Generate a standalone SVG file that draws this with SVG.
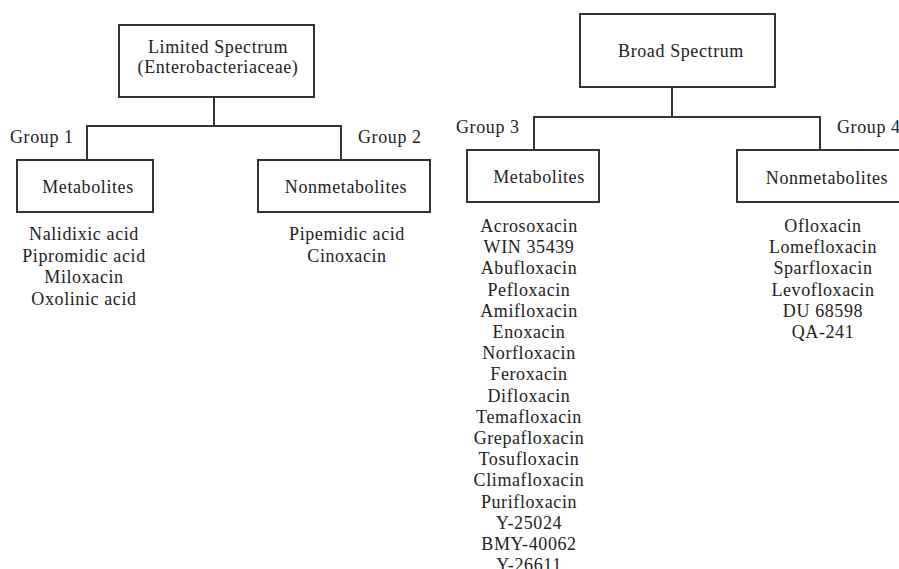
<svg xmlns="http://www.w3.org/2000/svg" width="899" height="569" viewBox="0 0 899 569">
<style>
.box{fill:#fff;stroke:#333;stroke-width:2}
.ln{fill:none;stroke:#333;stroke-width:2}
text{font-family:"Liberation Serif","Times New Roman",serif;font-size:18px;fill:#222;letter-spacing:0.6px}
.c{text-anchor:middle}
</style>
<rect width="899" height="569" fill="#fff"/>
<g id="connectors">
<path class="ln" d="M214 97V126M87 160V126H341V160"/>
<path class="ln" d="M672 87V117M534 150V117H820V150"/>
</g>
<g id="limited">
<rect class="box" x="119" y="25" width="195" height="72"/>
<text class="c" x="218" y="53">Limited Spectrum</text>
<text class="c" x="218" y="73">(Enterobacteriaceae)</text>
</g>
<g id="broad">
<rect class="box" x="580" y="14" width="195" height="73"/>
<text class="c" x="681" y="57">Broad Spectrum</text>
</g>
<g id="group1">
<text x="10" y="143">Group 1</text>
<rect class="box" x="17" y="160" width="136" height="52"/>
<text class="c" x="88" y="193">Metabolites</text>
<text class="c" x="84" y="240">Nalidixic acid</text>
<text class="c" x="84" y="261.5">Pipromidic acid</text>
<text class="c" x="84" y="283">Miloxacin</text>
<text class="c" x="84" y="304.5">Oxolinic acid</text>
</g>
<g id="group2">
<text x="358" y="143">Group 2</text>
<rect class="box" x="258" y="160" width="172" height="52"/>
<text class="c" x="346" y="193">Nonmetabolites</text>
<text class="c" x="347" y="240">Pipemidic acid</text>
<text class="c" x="347" y="261.5">Cinoxacin</text>
</g>
<g id="group3">
<text x="456" y="133">Group 3</text>
<rect class="box" x="467" y="150" width="132" height="52"/>
<text class="c" x="539" y="183">Metabolites</text>
<text class="c" x="529" y="232">Acrosoxacin</text>
<text class="c" x="529" y="253.2">WIN 35439</text>
<text class="c" x="529" y="274.4">Abufloxacin</text>
<text class="c" x="529" y="295.6">Pefloxacin</text>
<text class="c" x="529" y="316.8">Amifloxacin</text>
<text class="c" x="529" y="338">Enoxacin</text>
<text class="c" x="529" y="359.2">Norfloxacin</text>
<text class="c" x="529" y="380.4">Feroxacin</text>
<text class="c" x="529" y="401.6">Difloxacin</text>
<text class="c" x="529" y="422.8">Temafloxacin</text>
<text class="c" x="529" y="444">Grepafloxacin</text>
<text class="c" x="529" y="465.2">Tosufloxacin</text>
<text class="c" x="529" y="486.4">Climafloxacin</text>
<text class="c" x="529" y="507.6">Purifloxacin</text>
<text class="c" x="529" y="528.8">Y-25024</text>
<text class="c" x="529" y="550">BMY-40062</text>
<text class="c" x="529" y="571.2">Y-26611</text>
</g>
<g id="group4">
<text x="837" y="133">Group 4</text>
<rect class="box" x="737" y="150" width="190" height="52"/>
<text class="c" x="827" y="184">Nonmetabolites</text>
<text class="c" x="823" y="232">Ofloxacin</text>
<text class="c" x="823" y="253.2">Lomefloxacin</text>
<text class="c" x="823" y="274.4">Sparfloxacin</text>
<text class="c" x="823" y="295.6">Levofloxacin</text>
<text class="c" x="823" y="316.8">DU 68598</text>
<text class="c" x="823" y="338">QA-241</text>
</g>
</svg>
